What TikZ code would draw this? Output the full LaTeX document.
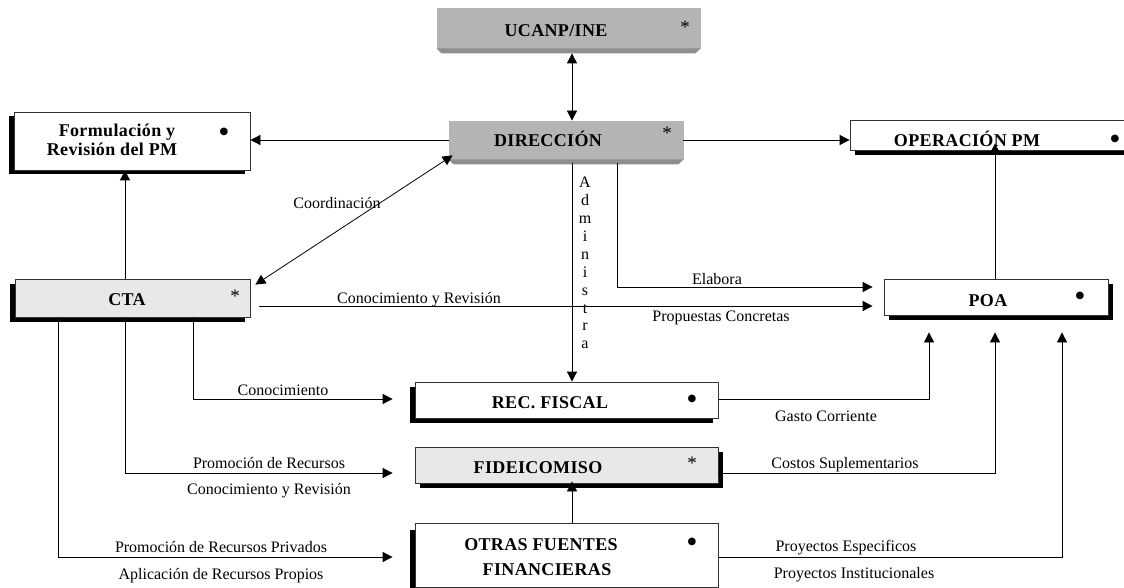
\documentclass[tikz,border=0pt]{standalone}
\usepackage{fontspec}
\setmainfont{Liberation Serif}
\newfontfamily\boxfont[LetterSpace=2]{Liberation Serif}
\newfontfamily\symfont{DejaVu Sans}
\usetikzlibrary{arrows.meta,shadows,calc}
\definecolor{darkgrayfill}{HTML}{B4B4B4}
\definecolor{bevelgray}{HTML}{8E8E8E}
\definecolor{lightgrayfill}{HTML}{E8E8E8}
\tikzset{
  box/.style={draw=black!80, line width=0.8pt, inner sep=0pt, fill=white},
  graybox/.style={box, fill=darkgrayfill, draw=darkgrayfill},
  lightbox/.style={box, fill=lightgrayfill},
  shLeft/.style={drop shadow={shadow xshift=-5pt, shadow yshift=-5pt, fill=black, opacity=1}},
  shRight/.style={drop shadow={shadow xshift=5pt, shadow yshift=-5pt, fill=black, opacity=1}},
  bevel/.style={fill=bevelgray},
  boxtxt/.style={anchor=base, inner sep=0pt, font={\boxfont\fontsize{18}{18}\selectfont\bfseries}},
  lbl/.style={anchor=base, inner sep=0pt, font={\fontsize{16}{16}\selectfont}},
  bulletmark/.style={inner sep=0pt, font={\symfont\fontsize{10}{10}\selectfont}},
  starmark/.style={inner sep=0pt, font={\fontsize{19}{19}\selectfont}},
  conn/.style={line width=0.8pt},
  arr/.style={conn, -{Triangle[length=10pt,width=10pt]}},
  biarr/.style={conn, {Triangle[length=10pt,width=10pt]}-{Triangle[length=10pt,width=10pt]}},
}
\begin{document}
\begin{tikzpicture}[x=1pt,y=-1pt]
\useasboundingbox (0,0) rectangle (1124,588);
% columns
\coordinate (xA) at (58,0);
\coordinate (xB) at (125,0);
\coordinate (xC) at (193,0);
\coordinate (xD) at (572,0);
\coordinate (xE) at (617,0);
\coordinate (xF) at (929,0);
\coordinate (xG) at (995,0);
\coordinate (xH) at (1062,0);

% boxes
\node[graybox, minimum width=263pt, minimum height=40pt] (ucanp) at (568.5,28) {};
\fill[bevel] (ucanp.south west) -- (ucanp.south east) -- ++(-5,5) -- ($(ucanp.south west)+(5,5)$) -- cycle;
\node[graybox, minimum width=234pt, minimum height=38pt] (dir) at (566,140) {};
\fill[bevel] (dir.south west) -- (dir.south east) -- ++(-5,5) -- ($(dir.south west)+(5,5)$) -- cycle;
\node[box, drop shadow={shadow xshift=-5pt, shadow yshift=-4pt, fill=black, opacity=1}, minimum width=236pt, minimum height=58pt] (form) at (132,141) {};
\node[box, shRight, minimum width=285pt, minimum height=30pt] (oper) at (992.5,135) {};
\node[lightbox, shLeft, minimum width=235pt, minimum height=38pt] (cta) at (132.5,298) {};
\node[box, shRight, minimum width=224pt, minimum height=36pt] (poa) at (996,297) {};
\node[box, shLeft, minimum width=303pt, minimum height=36pt] (rec) at (566.5,400) {};
\node[lightbox, shRight, minimum width=303pt, minimum height=36pt] (fid) at (566.5,465) {};
\node[box, drop shadow={shadow xshift=-5pt, shadow yshift=-7pt, fill=black, opacity=1}, minimum width=303pt, minimum height=64pt] (otras) at (566.5,555) {};

% box texts
\node[boxtxt] (ucanp-t) at (556,37) {UCANP/INE};
\node[boxtxt] (dir-t) at (548,147) {DIRECCIÓN};
\node[boxtxt] (form-t1) at (117,137) {Formulación y};
\node[boxtxt] (form-t2) at (112,156) {Revisión del PM};
\node[boxtxt] (oper-t) at (967,147) {OPERACIÓN PM};
\node[boxtxt] (cta-t) at (127,305) {CTA};
\node[boxtxt] (poa-t) at (988,306) {POA};
\node[boxtxt] (rec-t) at (550,408) {REC. FISCAL};
\node[boxtxt] (fid-t) at (538,473) {FIDEICOMISO};
\node[boxtxt] (otras-t1) at (541,550) {OTRAS FUENTES};
\node[boxtxt] (otras-t2) at (547,575) {FINANCIERAS};

% markers
\node[starmark] (ucanp-m) at (685,27) {*};
\node[starmark] (dir-m) at (667,133) {*};
\node[bulletmark] (form-m) at (224,132) {●};
\node[bulletmark] (oper-m) at (1115,139) {●};
\node[starmark] (cta-m) at (235,296) {*};
\node[bulletmark] (poa-m) at (1080,296) {●};
\node[bulletmark] (rec-m) at (692,399) {●};
\node[starmark] (fid-m) at (692,463) {*};
\node[bulletmark] (otras-m) at (692,542) {●};

% connectors
\draw[biarr, shorten <=5pt] (ucanp.south -| xD) -- (dir.north -| xD);
\draw[arr] (dir.west) -- (dir.west -| form.east);
\draw[arr] (dir.east) -- (dir.east -| oper.west);
\draw[biarr] ([xshift=4pt,yshift=4pt]dir.south west) -- ([xshift=5pt,yshift=-6pt]cta.north east);
\draw[arr] (cta.north -| xB) -- (form.south -| xB);
\draw[arr] ([xshift=9pt,yshift=-8pt]cta.east) -- ([xshift=-11pt,yshift=-9pt]poa.west);
\draw[arr, shorten <=4pt] (dir.south -| xE) |- ([xshift=-11pt,yshift=10pt]poa.west);
\draw[arr, shorten <=4pt] (dir.south -| xD) -- (rec.north -| xD);
\draw[arr, shorten >=22pt] (cta.south -| xC) |- ([yshift=1pt]rec.west);
\draw[arr, shorten >=22pt] (cta.south -| xB) |- ([yshift=-8pt]fid.west);
\draw[arr, shorten >=22pt] (cta.south -| xA) |- ([yshift=-2pt]otras.west);
\draw[arr, shorten >=17pt] ([yshift=1pt]rec.east) -| (poa.south -| xF);
\draw[arr, shorten >=17pt] ([yshift=-8pt]fid.east) -| (poa.south -| xG);
\draw[arr, shorten >=17pt] ([yshift=-2pt]otras.east) -| (poa.south -| xH);
\draw[arr, shorten >=-2pt] (otras.north -| xD) -- (fid.south -| xD);
\draw[arr, shorten >=-7pt] (poa.north -| xG) -- (oper.south -| xG);

% labels
\node[lbl] (l-coord) at (337,208) {Coordinación};
\node[lbl] (l-cyr1) at (419,303) {Conocimiento y Revisión};
\node[lbl] (l-prop) at (721,321) {Propuestas Concretas};
\node[lbl] (l-elab) at (717,284) {Elabora};
\node[inner sep=0pt, anchor=north, align=center, font={\fontsize{16}{17.9}\selectfont}] (l-adm) at (585,177) {A\\d\\m\\i\\n\\i\\s\\t\\r\\a};
\node[lbl] (l-con) at (283,395) {Conocimiento};
\node[lbl] (l-prom) at (269,468) {Promoción de Recursos};
\node[lbl] (l-cyr2) at (269,494) {Conocimiento y Revisión};
\node[lbl] (l-priv) at (221,552) {Promoción de Recursos Privados};
\node[lbl] (l-apl) at (221,579) {Aplicación de Recursos Propios};
\node[lbl] (l-gasto) at (826,421) {Gasto Corriente};
\node[lbl] (l-cost) at (845,468) {Costos Suplementarios};
\node[lbl] (l-pesp) at (846,551) {Proyectos Especificos};
\node[lbl] (l-pins) at (854,578) {Proyectos Institucionales};
\end{tikzpicture}
\end{document}
